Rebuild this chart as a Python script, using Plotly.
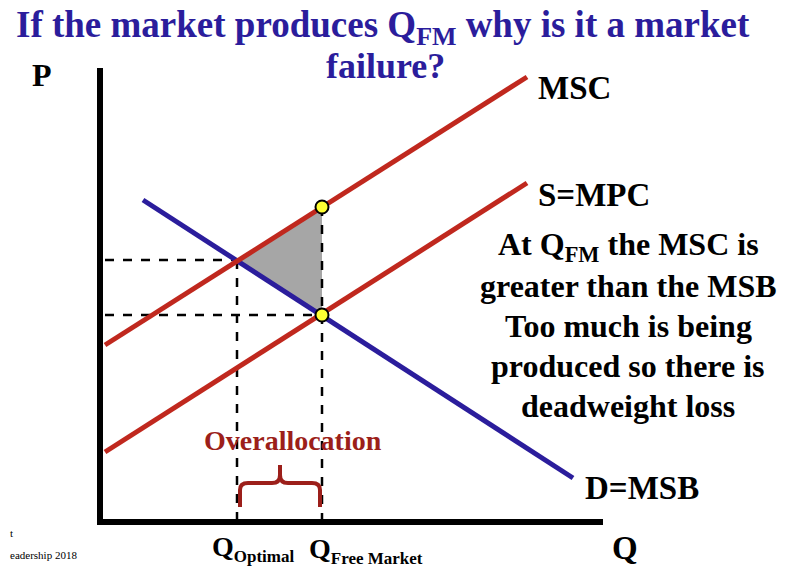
import plotly.graph_objects as go

# curve endpoints (diagram coordinates, y grows downward)
msc_x = [105, 527]; msc_y = [345, 77]
mpc_x = [105, 527]; mpc_y = [452, 183]
msb_x = [143, 573]; msb_y = [200, 478]
q_opt, p_opt = 237, 260
q_fm, p_fm_msc, p_fm = 322, 207, 315
axis_x0, axis_top, axis_bottom, axis_right = 100, 68, 522, 603

BLUE = "#2b1d9c"
RED = "#c0281e"
DRED = "#9c1f1a"
FONT = "Liberation Serif"
OFF = 8  # page body margin

fig = go.Figure()

# deadweight loss triangle
fig.add_trace(go.Scatter(x=[q_opt, q_fm, q_fm, q_opt], y=[p_opt, p_fm_msc, p_fm, p_opt],
                         fill="toself", fillcolor="#a6a6a6", mode="lines",
                         line=dict(width=0), showlegend=False))

# dashed guides
for xs, ys in [([axis_x0 + 5, q_opt], [p_opt, p_opt]),
               ([axis_x0 + 5, q_fm], [p_fm, p_fm]),
               ([q_opt, q_opt], [p_opt, axis_bottom]),
               ([q_fm, q_fm], [p_fm_msc, axis_bottom])]:
    fig.add_trace(go.Scatter(x=xs, y=ys, mode="lines",
                             line=dict(color="black", width=2.5, dash="dash"), showlegend=False))

# curves
fig.add_trace(go.Scatter(x=msb_x, y=msb_y, mode="lines", line=dict(color=BLUE, width=5), showlegend=False))
fig.add_trace(go.Scatter(x=msc_x, y=msc_y, mode="lines", line=dict(color=RED, width=5), showlegend=False))
fig.add_trace(go.Scatter(x=mpc_x, y=mpc_y, mode="lines", line=dict(color=RED, width=5), showlegend=False))

# axes
fig.add_trace(go.Scatter(x=[axis_x0, axis_x0, axis_right], y=[axis_top, axis_bottom, axis_bottom],
                         mode="lines", line=dict(color="black", width=6), showlegend=False))

# points
fig.add_trace(go.Scatter(x=[q_fm, q_fm], y=[p_fm_msc, p_fm], mode="markers",
                         marker=dict(color="#ffff33", size=13, line=dict(color="black", width=2)),
                         showlegend=False))

# brace
fig.add_shape(type="path",
              path="M 240 507 L 240 490 Q 240 483 248 483 L 272 483 Q 280 483 280 475 L 280 465 "
                   "L 280 475 Q 280 483 288 483 L 312 483 Q 320 483 320 490 L 320 507",
              line=dict(color=DRED, width=4))

def txt(x, y, s, size=30, color="black", anchor="center"):
    fig.add_annotation(x=x, y=y, text=s, showarrow=False, xanchor=anchor, yanchor="middle",
                       font=dict(family=FONT, size=size, color=color))

txt(383, 27, "<b>If the market produces Q<sub>FM</sub> why is it a market</b>", 37, BLUE)
txt(385, 66, "<b>failure?</b>", 36, BLUE)
txt(42, 75, "<b>P</b>", 32)
txt(536, 88, "<b>MSC</b>", 33, anchor="left")
txt(536, 195, "<b>S=MPC</b>", 33, anchor="left")
txt(583, 488, "<b>D=MSB</b>", 33, anchor="left")
txt(625, 548, "<b>Q</b>", 33)
txt(253, 548, "<b>Q<sub><span style='font-size:17px'>Optimal</span></sub></b>", 28)
txt(366, 550, "<b>Q<sub><span style='font-size:17px'>Free Market</span></sub></b>", 28)
txt(293, 440, "<b>Overallocation</b>", 28, DRED)
right_lines = ["<b>At Q<sub>FM</sub> the MSC is</b>", "<b>greater than the MSB</b>",
               "<b>Too much is being</b>", "<b>produced so there is</b>", "<b>deadweight loss</b>"]
for i, s in enumerate(right_lines):
    txt(628, 246 + i * 40, s, 32)
txt(OFF, 533, "t", 11, anchor="left")
txt(OFF, 555, "eadership 2018", 11, anchor="left")

fig.update_layout(width=785, height=568, margin=dict(l=0, r=0, t=0, b=0),
                  plot_bgcolor="white", paper_bgcolor="white",
                  xaxis=dict(range=[OFF, 785 + OFF], visible=False, fixedrange=True),
                  yaxis=dict(range=[568 + OFF, OFF], visible=False, fixedrange=True))
fig.write_html("out.html")
